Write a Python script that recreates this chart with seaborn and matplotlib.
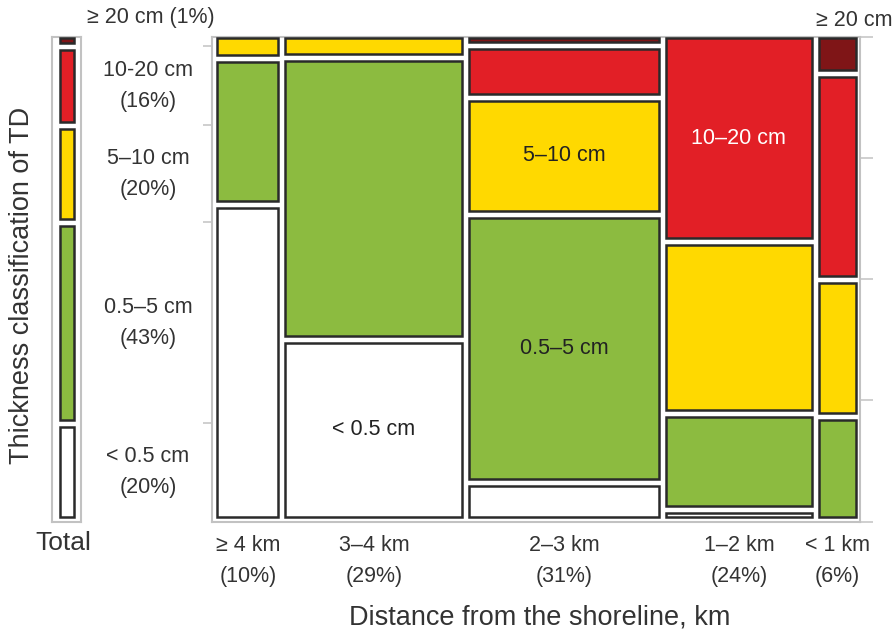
import numpy as np
import matplotlib
matplotlib.use("Agg")
import matplotlib.pyplot as plt
import matplotlib.transforms as mtransforms
import seaborn as sns

sns.set_style("white")
plt.rcParams["font.family"] = ["Liberation Sans", "DejaVu Sans"]

# Distance from the shoreline (left to right) and share of all sites, %
distance_labels = ["≥ 4 km", "3–4 km", "2–3 km", "1–2 km", "< 1 km"]
distance_share = [10, 29, 31, 24, 6]

# Thickness classes of the tsunami deposit, bottom to top
thickness_classes = ["< 0.5 cm", "0.5–5 cm", "5–10 cm", "10–20 cm", "≥ 20 cm"]
thickness_colors = ["#ffffff", "#8cbb40", "#ffd900", "#e21f26", "#7f1517"]

# Share of each thickness class within a distance class, % (bottom to top)
share_ge4 = [66.5, 30.0, 3.5, 0.0, 0.0]
share_3_4 = [37.4, 59.2, 3.4, 0.0, 0.0]
share_2_3 = [6.8, 57.8, 24.3, 9.9, 0.8]
share_1_2 = [0.8, 19.3, 36.0, 43.4, 0.0]
share_lt1 = [0.0, 21.1, 28.5, 43.6, 6.9]
column_shares = [share_ge4, share_3_4, share_2_3, share_1_2, share_lt1]

# Overall share of each thickness class, % (bottom to top)
total_share = [20, 43, 20, 16, 1]
total_labels = ["< 0.5 cm\n(20%)", "0.5–5 cm\n(43%)", "5–10 cm\n(20%)",
                "10-20 cm\n(16%)", "≥ 20 cm (1%)"]

# Cells labelled inside the mosaic: (distance index, thickness index, text colour)
cell_labels = [(1, 0, "#222222"), (2, 1, "#222222"), (2, 2, "#222222"),
               (3, 3, "#ffffff")]

TEXT = "#333333"
SPINE = "#c2c2c2"
EDGE = "#2a2a2a"

W, H = 896, 633
fig = plt.figure(figsize=(W / 100, H / 100), dpi=100)

top_px, bot_px = 36.5, 521.5
ax = fig.add_axes([212 / W, 1 - bot_px / H, (860 - 212) / W, (bot_px - top_px) / H])
ax_tot = fig.add_axes([52 / W, 1 - bot_px / H, 29 / W, (bot_px - top_px) / H])

span_x = 860 - 212
span_y = bot_px - top_px


def stack(values, lo, hi, gap):
    """Positions and sizes of tiles along one side, empty tiles dropped."""
    v = np.asarray(values, float)
    keep = v > 0
    room = hi - lo - gap * (keep.sum() - 1)
    sizes = np.where(keep, v / v.sum() * room, 0.0)
    starts, pos = [], lo
    for s, k in zip(sizes, keep):
        starts.append(pos)
        if k:
            pos += s + gap
    return np.array(starts), sizes


x_lo, x_hi, x_gap = 5.25 / span_x, 643.75 / span_x, 7.0 / span_x
y_lo, y_hi, y_gap = 4.75 / span_y, (bot_px - 38.25) / span_y, 7.0 / span_y

col_x, col_w = stack(distance_share, x_lo, x_hi, x_gap)

cell_pos = {}
for i, shares in enumerate(column_shares):
    ys, hs = stack(shares, y_lo, y_hi, y_gap)
    for j, (y0, h) in enumerate(zip(ys, hs)):
        if h <= 0:
            continue
        ax.bar(col_x[i], h, width=col_w[i], bottom=y0, align="edge",
               color=thickness_colors[j], edgecolor=EDGE, linewidth=1.8, zorder=3)
        cell_pos[(i, j)] = (col_x[i] + col_w[i] / 2, y0 + h / 2)

for i, j, c in cell_labels:
    cx, cy = cell_pos[(i, j)]
    ax.text(cx, cy, thickness_classes[j], ha="center", va="center",
            fontsize=15.5, color=c, zorder=4)

ax.set_xlim(0, 1)
ax.set_ylim(0, 1)

# column boundaries on the bottom axis, class names centred under columns
bounds_x = col_x[1:] - x_gap / 2
ax.set_xticks(bounds_x)
ax.set_xticklabels([])
ax.set_xticks(col_x + col_w / 2, minor=True)
ax.set_xticklabels([f"{d}\n({s}%)" for d, s in zip(distance_labels, distance_share)],
                   minor=True, fontsize=15.5, color=TEXT, linespacing=1.62)
ax.tick_params(axis="x", which="major", direction="out", length=6.5,
               width=1.1, color=SPINE)
ax.tick_params(axis="x", which="minor", length=0, pad=9.5)

# overall thickness column
tot_y, tot_h = stack(total_share, y_lo, y_hi, y_gap)
bar_x0, bar_x1 = (60.25 - 52) / 29, (73.75 - 52) / 29
for j, (y0, h) in enumerate(zip(tot_y, tot_h)):
    ax_tot.bar(bar_x0, h, width=bar_x1 - bar_x0, bottom=y0, align="edge",
               color=thickness_colors[j], edgecolor=EDGE, linewidth=1.8, zorder=3)
ax_tot.set_xlim(0, 1)
ax_tot.set_ylim(0, 1)
ax_tot.set_xticks([])
ax_tot.set_yticks([])
for sp in ax_tot.spines.values():
    sp.set_visible(True)
    sp.set_color(SPINE)
    sp.set_linewidth(1.5)

# left ticks of the mosaic mark the class boundaries of the overall column
bounds_y = tot_y[1:] - y_gap / 2
ax.set_yticks(bounds_y)
ax.set_yticklabels([])
ax.tick_params(axis="y", direction="out", length=6.5, width=1.1, color=SPINE)

for sp in ax.spines.values():
    sp.set_visible(True)
    sp.set_color(SPINE)
    sp.set_linewidth(1.5)

# quarter marks on the right side
ax_r = ax.twinx()
ax_r.set_ylim(0, 1)
ax_r.set_yticks([0, 0.25, 0.5, 0.75, 1.0])
ax_r.set_yticklabels([])
ax_r.tick_params(axis="y", direction="out", length=9.4, width=1.1, color=SPINE)
for sp in ax_r.spines.values():
    sp.set_visible(False)

# class names beside the overall column
lab_tf = mtransforms.blended_transform_factory(fig.transFigure, ax_tot.transData)
for j, (y0, h) in enumerate(zip(tot_y, tot_h)):
    if j == len(total_share) - 1:
        fig.text(151 / W, 1 - 18 / H, total_labels[j], ha="center", va="center",
                 fontsize=15.5, color=TEXT)
    else:
        fig.text(148 / W, y0 + h / 2, total_labels[j], transform=lab_tf,
                 ha="center", va="center", fontsize=15.5, color=TEXT,
                 linespacing=1.62)

fig.text(854 / W, 1 - 20 / H, thickness_classes[-1], ha="center", va="center",
         fontsize=15.5, color=TEXT)

fig.text(63 / W, 1 - 543 / H, "Total", ha="center", va="center",
         fontsize=19, color=TEXT)
fig.text(22 / W, 1 - 285 / H, "Thickness classification of TD", rotation=90,
         ha="center", va="center", fontsize=19.5, color=TEXT)
fig.text(540 / W, 1 - 618 / H, "Distance from the shoreline, km",
         ha="center", va="center", fontsize=19.5, color=TEXT)

fig.savefig("out.png", dpi=100)
